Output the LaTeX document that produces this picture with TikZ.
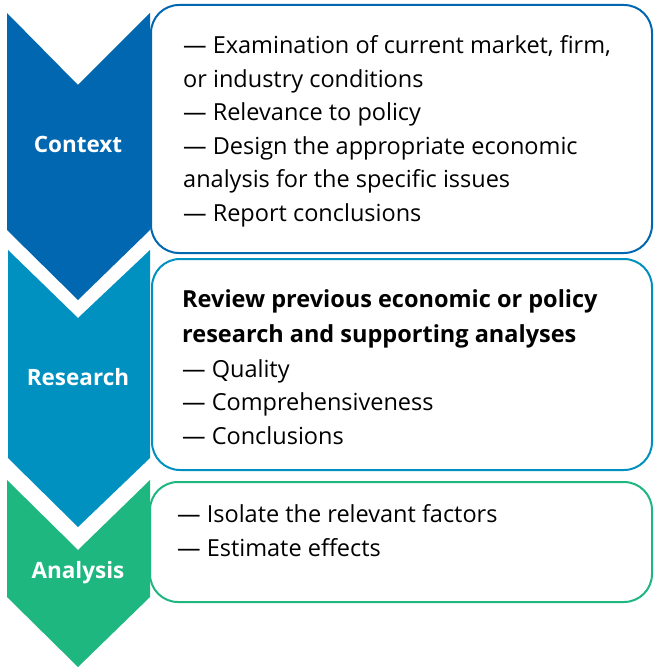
\documentclass[tikz,border=0pt]{standalone}
\usepackage{fontspec}
\setmainfont{Open Sans}
\definecolor{ctx}{RGB}{0,103,176}
\definecolor{res}{RGB}{0,145,193}
\definecolor{ana}{RGB}{31,183,128}
\begin{document}
\begin{tikzpicture}[x=1pt,y=-1pt,
  chev/.style={fill=#1,draw=none},
  panel/.style={draw=#1,line width=2pt,fill=white,rounded corners=28pt},
  lbl/.style={anchor=base,text=white,inner sep=0pt,font=\bfseries\fontsize{22.5}{26}\selectfont},
  itm/.style={anchor=base west,inner sep=0pt,font=\fontsize{23.5}{28}\selectfont},
  itmb/.style={itm,font=\bfseries\fontsize{23.5}{28}\selectfont}]
\useasboundingbox (0,0) rectangle (654,668);
% chevrons
\fill[chev=ctx] (7,13) -- (78,85) -- (150,13) -- (150,230) -- (78,300) -- (7,230) -- cycle;
\fill[chev=res] (8,250) -- (78,318) -- (150,250) -- (150,458) -- (78,527) -- (8,458) -- cycle;
\fill[chev=ana] (7,480) -- (78,550) -- (150,480) -- (150,597) -- (78,667) -- (7,597) -- cycle;
\node[lbl] (lctx) at (78,153) {Context};
\node[lbl] (lres) at (78,385) {Research};
\node[lbl] (lana) at (78,578) {Analysis};
% panels
\draw[panel=ctx] (151,5) rectangle (652,253);
\draw[panel=res] (152,259) rectangle (652,470);
\draw[panel=ana] (150,482) rectangle (652,602);
% texts
\node[itm] (a1) at (183,54) {— Examination of current market, firm,};
\node[itm] (a2) at (183,88) {or industry conditions};
\node[itm] (a3) at (183,121) {— Relevance to policy};
\node[itm] (a4) at (183,155) {— Design the appropriate economic};
\node[itm] (a5) at (183,188) {analysis for the specific issues};
\node[itm] (a6) at (183,222) {— Report conclusions};
\node[itmb] (b1) at (182,307) {Review previous economic or policy};
\node[itmb] (b2) at (182,342) {research and supporting analyses};
\node[itm] (b3) at (182,377) {— Quality};
\node[itm] (b4) at (182,410) {— Comprehensiveness};
\node[itm] (b5) at (182,444) {— Conclusions};
\node[itm] (c1) at (177,522) {— Isolate the relevant factors};
\node[itm] (c2) at (177,556) {— Estimate effects};
\end{tikzpicture}
\end{document}
